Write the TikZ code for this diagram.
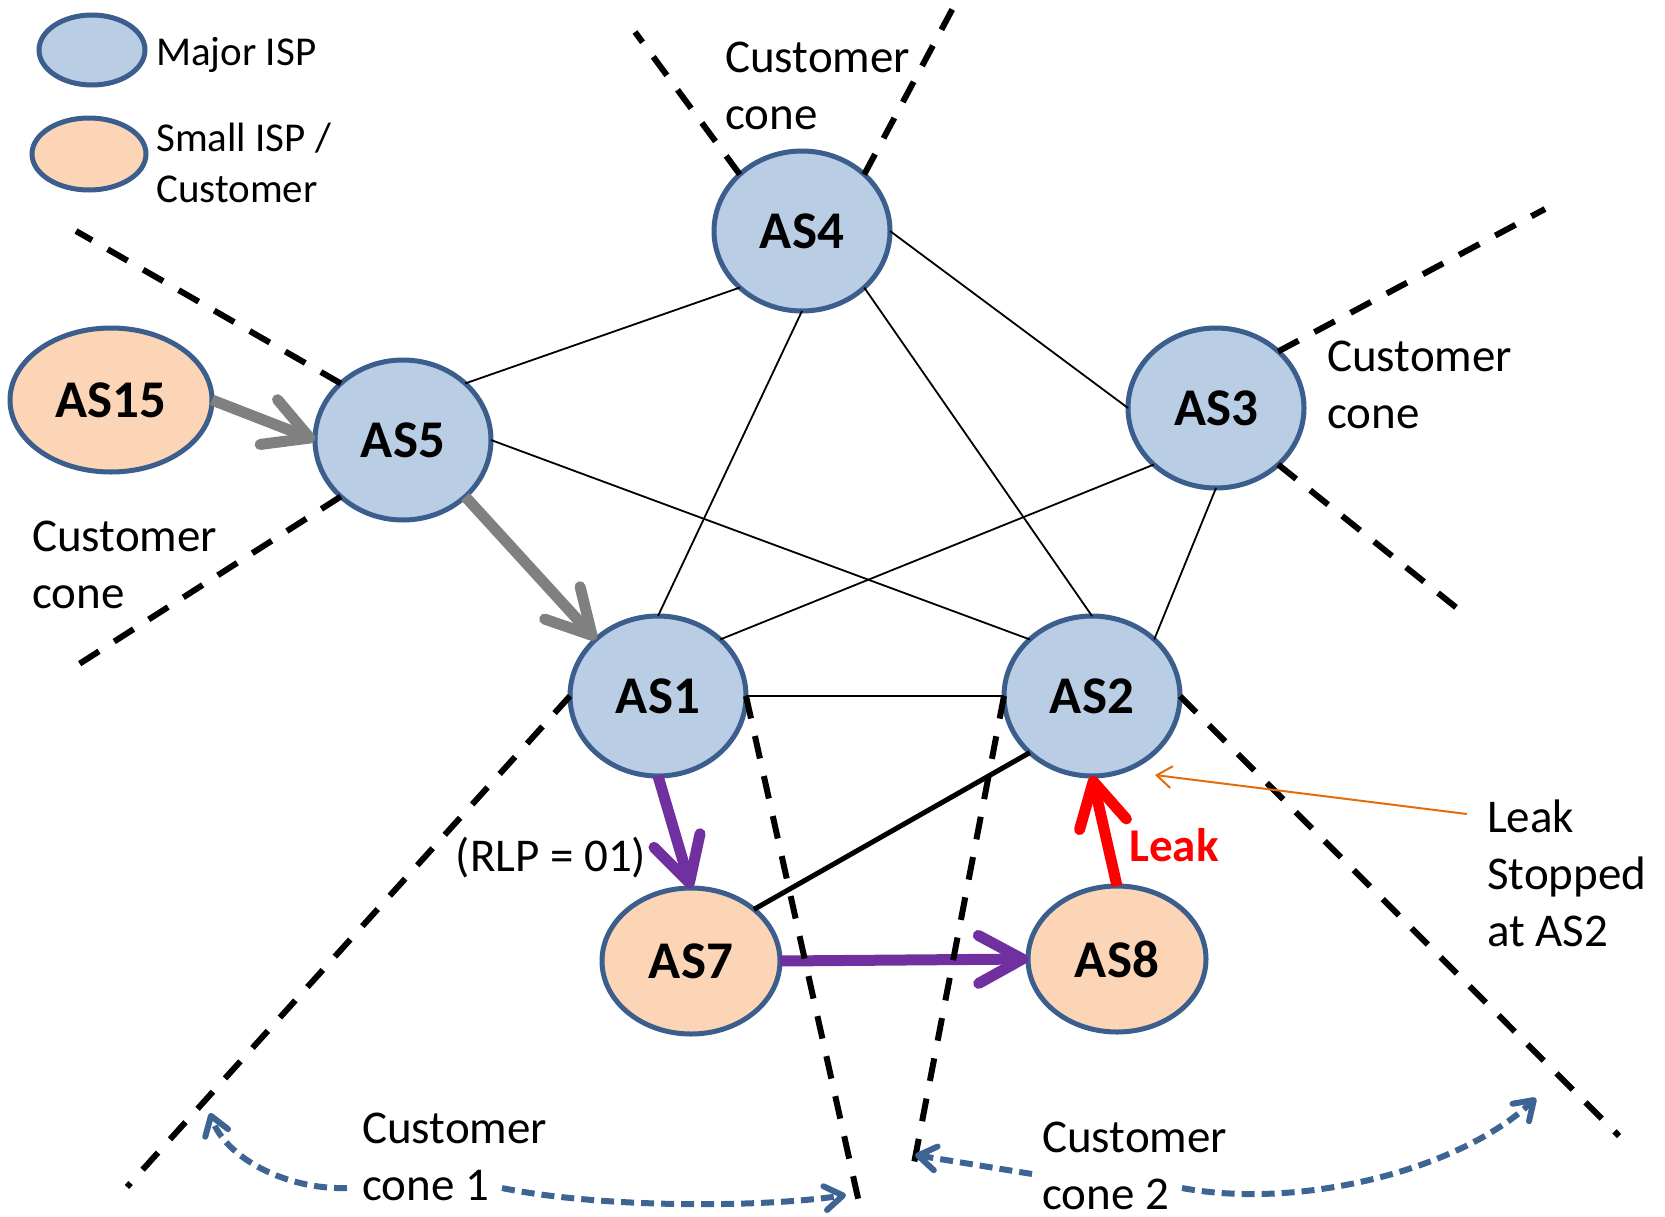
\documentclass[tikz,border=0pt]{standalone}
\usepackage{fontspec}
\setmainfont{Carlito}
\usetikzlibrary{shapes.geometric,arrows.meta,calc}

\definecolor{majorfill}{HTML}{B9CDE5}
\definecolor{smallfill}{HTML}{FBD5B5}
\definecolor{rim}{HTML}{3B5E8C}
\definecolor{routepurple}{HTML}{7030A0}
\definecolor{leakred}{HTML}{FF0000}
\definecolor{pathgray}{HTML}{808080}
\definecolor{noteorange}{HTML}{E46C0A}
\definecolor{conehint}{HTML}{3E6494}

\newcommand\labfont{\fontsize{53}{63}\selectfont\bfseries}
\newcommand\txtfont{\fontsize{47}{57}\selectfont}
\newcommand\legfont{\fontsize{41}{51}\selectfont}

\begin{document}
\begin{tikzpicture}[x=1pt,y=-1pt,
  asnode/.style={ellipse, draw=rim, line width=5pt, inner sep=0pt, outer sep=0pt, font=\labfont},
  major/.style={asnode, fill=majorfill, minimum width=176pt, minimum height=160pt},
  minor/.style={asnode, fill=smallfill, minimum width=178pt, minimum height=146pt},
  peer/.style={line width=1.8pt},
  conebound/.style={line width=6pt, dash pattern=on 23pt off 18pt},
  flow/.style={line width=11pt, -{Straight Barb[length=44pt,width=48pt,round]}},
  note/.style={font=\txtfont, align=left, anchor=west, inner sep=0pt},
  hint/.style={conehint, line width=6pt, dash pattern=on 13pt off 7pt,
    -{Straight Barb[length=18pt,width=24pt,round]}},
]
\useasboundingbox (0,0) rectangle (1665,1216);

% legend
\node[major, minimum width=106pt, minimum height=70pt] (keymajor) at (92,50) {};
\node[minor, minimum width=114pt, minimum height=72pt] (keyminor) at (89,154) {};
\node[font=\legfont, anchor=west, inner sep=0pt] (keymajortxt) at (156,55) {Major ISP};
\node[font=\legfont, align=left, anchor=west, inner sep=0pt] (keyminortxt) at (156,163) {Small ISP /\\Customer};

% autonomous systems
\node[major] (AS4) at (802,231) {AS4};
\node[major] (AS5) at (403,440) {AS5};
\node[major] (AS3) at (1216,408) {AS3};
\node[major] (AS1) at (658,696) {AS1};
\node[major] (AS2) at (1092,696) {AS2};
\node[minor] (AS7) at (691,961) {AS7};
\node[minor] (AS8) at (1117,959) {AS8};
\node[minor, minimum width=202pt, minimum height=144pt] (AS15) at (111,400) {AS15};

% peering links between major ISPs
\draw[peer] (AS4.south west) -- (AS5.north east);
\draw[peer] (AS4.south) -- (AS1.north);
\draw[peer] (AS4.south east) -- (AS2.north);
\draw[peer] (AS4.east) -- (AS3.west);
\draw[peer] (AS5.east) -- (AS2.north west);
\draw[peer] (AS3.south west) -- (AS1.north east);
\draw[peer] (AS3.south) -- (AS2.north east);
\draw[peer] (AS1.east) -- (AS2.west);
\draw[line width=5pt] (AS7.north east) -- (AS2.south west);

% route propagation
\draw[flow, pathgray] (AS15.east) -- (AS5.west);
\draw[flow, pathgray] (AS5.south east) -- (AS1.north west);
\draw[flow, routepurple] (AS1.south) -- (AS7.north);
\draw[flow, routepurple] (AS7.east) -- (AS8.west);
\draw[flow, leakred] (AS8.north) -- (AS2.south);

% customer cone boundaries
\coordinate (t4a) at (635,32);
\coordinate (t4b) at (953,8);
\coordinate (t5a) at (76,231);
\coordinate (t5b) at (76,666);
\coordinate (t3a) at (1545,209);
\coordinate (t3b) at (1463,613);
\coordinate (t1a) at (127,1187);
\coordinate (t1b) at (862,1216);
\coordinate (t2a) at (911,1179);
\coordinate (t2b) at (1619,1136);
\draw[conebound] (AS4.north west) -- (t4a);
\draw[conebound] (AS4.north east) -- (t4b);
\draw[conebound] (AS5.north west) -- (t5a);
\draw[conebound] (AS5.south west) -- (t5b);
\draw[conebound] (AS3.north east) -- (t3a);
\draw[conebound] (AS3.south east) -- (t3b);
\draw[conebound] (AS1.west) -- (t1a);
\draw[conebound] (AS1.east) -- (t1b);
\draw[conebound] (AS2.west) -- (t2a);
\draw[conebound] (AS2.east) -- (t2b);

% labels
\node[note] (topcone) at (725,86) {Customer\\cone};
\node[note] (rightcone) at (1327,385) {Customer\\cone};
\node[note] (leftcone) at (32,565) {Customer\\cone};
\node[note] (stopnote) at (1487,873) {Leak\\Stopped\\at AS2};
\node[note] (cone1lbl) at (362,1157) {Customer\\cone 1};
\node[note] (cone2lbl) at (1042,1166) {Customer\\cone 2};
\node[font=\txtfont, inner sep=0pt] (rlp) at (551,858) {(RLP = 01)};
\node[font=\txtfont\bfseries, text=leakred, inner sep=0pt] (leaklbl) at (1174,845) {Leak};

% note pointer
\coordinate (stoptip) at (1155,775);
\draw[noteorange, line width=2pt, -{Straight Barb[length=15pt,width=22pt]}]
  ($(stopnote.west)+(-20,-59)$) -- (stoptip);

% cone extent hints
\coordinate (c1tipL) at (210,1113);
\coordinate (c1tipR) at (846,1195);
\coordinate (c2tipL) at (915,1155);
\coordinate (c2tipR) at (1536,1098);
\draw[hint] ($(cone1lbl.west)+(-15,31)$) .. controls +(-60,2) and +(15,45) .. (c1tipL);
\draw[hint] ($(cone1lbl.west)+(140,31)$) .. controls +(98,20) and +(-86,13) .. (c1tipR);
\draw[hint] ($(cone2lbl.west)+(-10,8)$) -- (c2tipL);
\draw[hint] ($(cone2lbl.west)+(140,22)$) .. controls +(118,22) and +(-76,72) .. (c2tipR);
\end{tikzpicture}
\end{document}
